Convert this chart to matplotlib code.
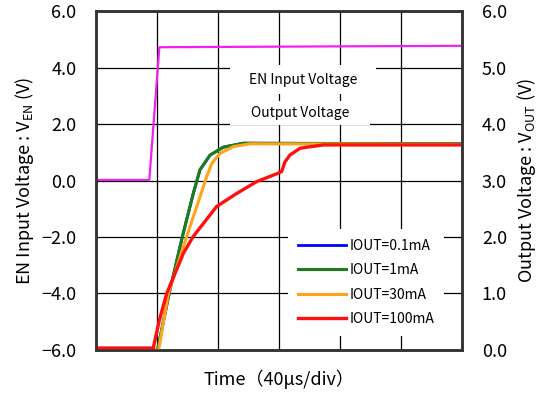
import matplotlib.pyplot as plt
from matplotlib.patches import Rectangle

plt.rcParams['font.family'] = ['Noto Sans CJK JP', 'DejaVu Sans']
plt.rcParams['mathtext.fontset'] = 'custom'
plt.rcParams['mathtext.rm'] = 'Noto Sans CJK JP'

# time in us (40 us/div)
t_en = [0, 34.9, 41.5, 120, 200, 240]
v_en = [0.02, 0.02, 4.72, 4.74, 4.76, 4.77]

t_01 = [0, 40.3, 47.9, 56.6, 63.7, 68.1, 74.7, 83.4, 96.5, 240]
v_01 = [0.0, 0.0, 1.00, 2.01, 2.77, 3.19, 3.45, 3.59, 3.66, 3.65]

t_1 = t_01
v_1 = v_01

t_30 = [0, 41.0, 47.4, 59.4, 68.1, 72.5, 75.8, 81.2, 89.9, 100.8, 240]
v_30 = [0.0, 0.0, 1.00, 2.01, 2.71, 3.07, 3.30, 3.48, 3.60, 3.65, 3.64]

t_100 = [0, 37.5, 41.5, 46.3, 57.2, 63.7, 79.0, 92.1, 105.2, 119.4, 121.6,
         123.8, 127.0, 133.6, 138.1, 148.9, 240]
v_100 = [0.035, 0.035, 0.53, 1.00, 1.71, 2.01, 2.54, 2.77, 2.98, 3.13, 3.16,
         3.33, 3.45, 3.57, 3.59, 3.63, 3.63]

labels = ["IOUT=0.1mA", "IOUT=1mA", "IOUT=30mA", "IOUT=100mA"]
colors = ["#0000ff", "#1b7d1b", "#ffa31a", "#ff1010"]

left_ticks = [-6, -4, -2, 0, 2, 4, 6]
right_ticks = [0, 1, 2, 3, 4, 5, 6]


def fmt(v):
    return ("%.1f" % v).replace("-", "\u2212")


fig, ax = plt.subplots(figsize=(5.44, 3.95), dpi=100)
fig.subplots_adjust(left=0.1765, right=0.850, bottom=0.114, top=0.972)

ax.set_xlim(0, 240)
ax.set_ylim(-6, 6)
ax.set_xticks(range(0, 241, 40))
ax.set_yticks(left_ticks)
ax.set_yticklabels([fmt(v) for v in left_ticks])
ax.tick_params(length=0, labelsize=13, pad=14)
ax.tick_params(axis='x', labelbottom=False)
ax.grid(True, color='k', lw=0.9)

ax.plot(t_en, v_en, color='#f020f0', lw=1.6, zorder=3)

# white boxes behind the two labels
ax.add_patch(Rectangle((0.366, 0.755), 0.398, 0.086, transform=ax.transAxes,
                       facecolor='white', edgecolor='none', zorder=2))
ax.add_patch(Rectangle((0.366, 0.664), 0.382, 0.071, transform=ax.transAxes,
                       facecolor='white', edgecolor='none', zorder=2))
ax.text(0.565, 0.797, "EN Input Voltage", transform=ax.transAxes,
        ha='center', va='center', fontsize=10, zorder=4)
ax.text(0.557, 0.700, "Output Voltage", transform=ax.transAxes,
        ha='center', va='center', fontsize=10, zorder=4)

ax.set_xlabel("Time（40μs/div）", fontsize=13, labelpad=14)
ax.set_ylabel("EN Input Voltage : V$_{\\mathrm{EN}}$ (V)", fontsize=13, labelpad=4)

ax2 = ax.twinx()
ax2.set_ylim(0, 6)
ax2.set_yticks(right_ticks)
ax2.set_yticklabels([fmt(v) for v in right_ticks])
ax2.tick_params(length=0, labelsize=13, pad=14)
ax2.set_ylabel("Output Voltage : V$_{\\mathrm{OUT}}$ (V)", fontsize=13, labelpad=6)

for t, v, c, lab, lw in zip([t_01, t_1, t_30, t_100], [v_01, v_1, v_30, v_100],
                            colors, labels, [2.0, 2.2, 2.2, 2.4]):
    ax2.plot(t, v, color=c, lw=lw, label=lab)

leg = ax2.legend(loc='lower right', bbox_to_anchor=(0.968, 0.021), fontsize=10,
                 handlelength=3.5, handletextpad=0.2, labelspacing=0.75,
                 frameon=True, fancybox=False, framealpha=1, borderpad=0.7)
leg.get_frame().set_edgecolor('none')

for a in (ax, ax2):
    for s in a.spines.values():
        s.set_color('#333333')
        s.set_linewidth(1.8)

plt.savefig('out.png', dpi=100)
